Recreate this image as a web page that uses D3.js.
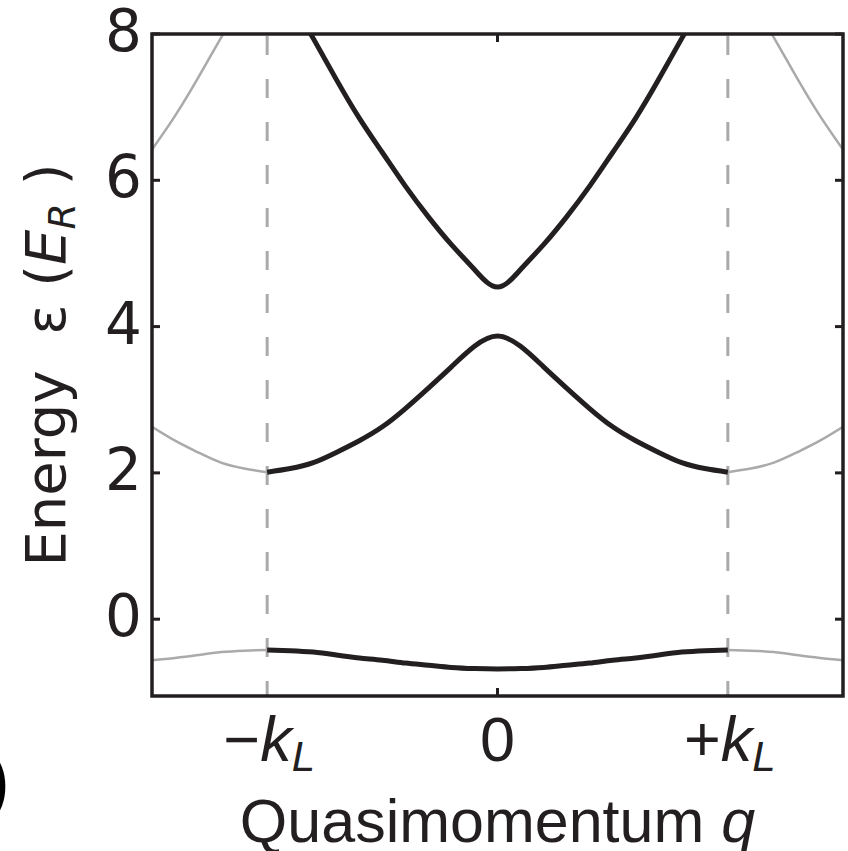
<!DOCTYPE html>
<html>
<head>
<meta charset="utf-8">
<script src="https://cdn.jsdelivr.net/npm/d3@7"></script>
<style>
  body { margin: 0; background: #fff; }
  svg { display: block; }
</style>
</head>
<body>
<svg width="848" height="851"></svg>
<script>
// quasimomentum in units of k_L, energies in units of E_R
const qZone = [-1, -0.9, -0.8, -0.7, -0.6, -0.5, -0.4, -0.3, -0.2, -0.1, 0,
               0.1, 0.2, 0.3, 0.4, 0.5, 0.6, 0.7, 0.8, 0.9, 1]
const band1 = [-0.42, -0.43, -0.45, -0.49, -0.53, -0.56, -0.60, -0.63, -0.66, -0.675, -0.68,
               -0.675, -0.66, -0.63, -0.60, -0.56, -0.53, -0.49, -0.45, -0.43, -0.42]
const band2 = [2.01, 2.06, 2.14, 2.28, 2.44, 2.63, 2.88, 3.16, 3.45, 3.73, 3.87,
               3.73, 3.45, 3.16, 2.88, 2.63, 2.44, 2.28, 2.14, 2.06, 2.01]
const band3 = [9.1, 8.5, 7.94, 7.38, 6.85, 6.38, 5.92, 5.50, 5.12, 4.78, 4.54,
               4.78, 5.12, 5.50, 5.92, 6.38, 6.85, 7.38, 7.94, 8.5, 9.1]

// repeated zone, drawn in grey
const qLeft = [-1.5, -1.4, -1.3, -1.2, -1.1, -1.0]
const qRight = [1.0, 1.1, 1.2, 1.3, 1.4, 1.5]
const grey1Left = [-0.56, -0.53, -0.49, -0.45, -0.43, -0.42]
const grey1Right = [-0.42, -0.43, -0.45, -0.49, -0.53, -0.56]
const grey2Left = [2.63, 2.44, 2.28, 2.14, 2.06, 2.01]
const grey2Right = [2.01, 2.06, 2.14, 2.28, 2.44, 2.63]
const grey3Left = [6.42, 6.88, 7.40, 7.95, 8.5, 9.1]
const grey3Right = [9.1, 8.5, 7.95, 7.40, 6.88, 6.42]

const yTicks = [0, 2, 4, 6, 8]
const xTicks = [-1, 0, 1]

const svg = d3.select('svg')
const pl = 152, pr = 843, pt = 34, pb = 696

const x = d3.scaleLinear().domain([-1.5, 1.5]).range([pl, pr])
const y = d3.scaleLinear().domain([-1.05, 8]).range([pb, pt])

const ink = '#231f20'
const grey = '#aaaaaa'

svg.append('clipPath').attr('id', 'plot')
  .append('rect')
  .attr('x', pl).attr('y', pt)
  .attr('width', pr - pl).attr('height', pb - pt)

const plot = svg.append('g').attr('clip-path', 'url(#plot)')

// zone edges
plot.selectAll('line.edge')
  .data([-1, 1])
  .enter().append('line')
  .attr('class', 'edge')
  .attr('x1', d => x(d)).attr('x2', d => x(d))
  .attr('y1', pt + 2).attr('y2', pb)
  .attr('stroke', grey)
  .attr('stroke-width', 3)
  .attr('stroke-dasharray', '19,24')

const line = d3.line()
  .x(d => x(d[0]))
  .y(d => y(d[1]))
  .curve(d3.curveNatural)

const greySets = [
  [qLeft, grey1Left], [qRight, grey1Right],
  [qLeft, grey2Left], [qRight, grey2Right],
  [qLeft, grey3Left], [qRight, grey3Right]
]
greySets.forEach(([qs, es]) => {
  plot.append('path')
    .datum(d3.zip(qs, es))
    .attr('d', line)
    .attr('fill', 'none')
    .attr('stroke', grey)
    .attr('stroke-width', 2.5)
})

;[band1, band2, band3].forEach(es => {
  plot.append('path')
    .datum(d3.zip(qZone, es))
    .attr('d', line)
    .attr('fill', 'none')
    .attr('stroke', ink)
    .attr('stroke-width', 5)
})

// frame
svg.append('rect')
  .attr('x', pl).attr('y', pt)
  .attr('width', pr - pl).attr('height', pb - pt)
  .attr('fill', 'none')
  .attr('stroke', ink)
  .attr('stroke-width', 3.5)

// y ticks, both sides, pointing inward
const tickLen = 8
yTicks.forEach(t => {
  svg.append('line')
    .attr('x1', pl).attr('x2', pl + tickLen)
    .attr('y1', y(t)).attr('y2', y(t))
    .attr('stroke', ink).attr('stroke-width', 3)
  svg.append('line')
    .attr('x1', pr - tickLen).attr('x2', pr)
    .attr('y1', y(t)).attr('y2', y(t))
    .attr('stroke', ink).attr('stroke-width', 3)
})
svg.selectAll('text.ytick')
  .data(yTicks)
  .enter().append('text')
  .attr('class', 'ytick')
  .attr('x', pl - 10)
  .attr('y', d => y(d) + 17)
  .attr('text-anchor', 'end')
  .attr('font-family', 'DejaVu Sans')
  .attr('font-size', 58)
  .attr('fill', ink)
  .text(d => d)

// x ticks at 0 (top and bottom)
svg.append('line')
  .attr('x1', x(0)).attr('x2', x(0))
  .attr('y1', pb).attr('y2', pb - tickLen)
  .attr('stroke', ink).attr('stroke-width', 3)
svg.append('line')
  .attr('x1', x(0)).attr('x2', x(0))
  .attr('y1', pt).attr('y2', pt + tickLen)
  .attr('stroke', ink).attr('stroke-width', 3)

const xl = svg.selectAll('text.xtick')
  .data(xTicks)
  .enter().append('text')
  .attr('class', 'xtick')
  .attr('x', d => x(d) + (d === 0 ? 0 : 2))
  .attr('y', 761)
  .attr('text-anchor', 'middle')
  .attr('font-family', 'Liberation Sans')
  .attr('font-size', 63)
  .attr('fill', ink)
xl.each(function(d) {
  const t = d3.select(this)
  if (d === 0) { t.text('0'); return }
  t.append('tspan').text(d < 0 ? '\u2212' : '+')
  t.append('tspan').attr('font-style', 'italic').text('k')
  t.append('tspan').attr('font-style', 'italic').attr('font-size', 42).attr('dy', 10).text('L')
})

svg.append('text')
  .attr('x', x(0))
  .attr('y', 842)
  .attr('text-anchor', 'middle')
  .attr('font-family', 'Liberation Sans')
  .attr('font-size', 61)
  .attr('fill', ink)
  .call(t => {
    t.append('tspan').text('Quasimomentum ')
    t.append('tspan').attr('font-style', 'italic').text('q')
  })

// y axis title
svg.append('text')
  .attr('transform', `translate(65,${(pt + pb) / 2}) rotate(-90)`)
  .attr('text-anchor', 'middle')
  .attr('font-family', 'DejaVu Sans')
  .attr('font-size', 56)
  .attr('fill', ink)
  .call(t => {
    t.append('tspan').text('Energy\u00a0\u00a0\u03b5\u00a0(')
    t.append('tspan').attr('font-style', 'italic').text('E')
    t.append('tspan').attr('font-style', 'italic').attr('font-size', 38).attr('dy', 10).text('R')
    t.append('tspan').attr('dy', -10).text('\u00a0)')
  })

// panel letter, cut off at the left edge
svg.append('text')
  .attr('x', 10)
  .attr('y', 806)
  .attr('text-anchor', 'end')
  .attr('font-family', 'Liberation Sans')
  .attr('font-size', 76)
  .attr('fill', '#000')
  .text('b)')
</script>
</body>
</html>
